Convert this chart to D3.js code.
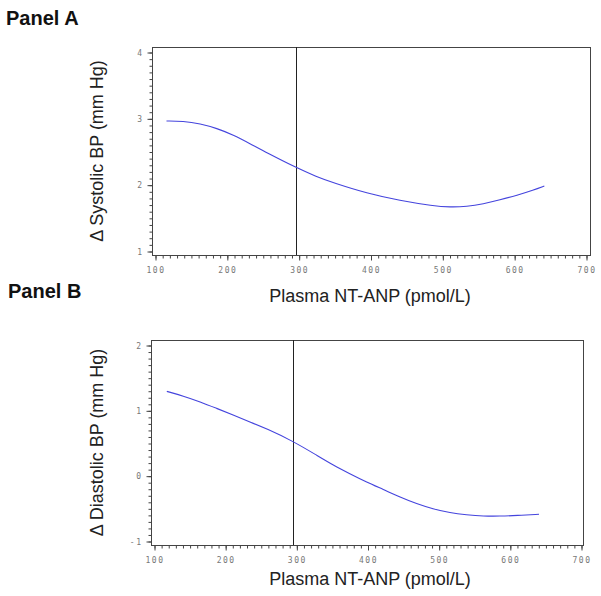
<!DOCTYPE html>
<html>
<head>
<meta charset="utf-8">
<script src="https://cdn.jsdelivr.net/npm/d3@7"></script>
<style>
  html, body { margin: 0; padding: 0; background: #fff; }
  svg { display: block; }
</style>
</head>
<body>
<svg id="chart" width="601" height="596"></svg>
<script>
// ---------------- data ----------------
const panelTitles = ["Panel A", "Panel B"];
const yTitles = ["\u0394 Systolic BP (mm Hg)", "\u0394 Diastolic BP (mm Hg)"];
const xTitle = "Plasma NT-ANP (pmol/L)";

const xTickValues = [100, 200, 300, 400, 500, 600, 700];
const yTickValuesA = [1, 2, 3, 4];
const yTickValuesB = [-1, 0, 1, 2];
const refLineX = 296;

// Panel A: Systolic BP curve
const xA = [116, 139, 163, 186, 209, 232, 256, 296, 325, 348, 395, 441, 487, 511, 534, 557, 580, 604, 627, 642];
const yA = [2.96, 2.96, 2.92, 2.85, 2.75, 2.62, 2.48, 2.26, 2.12, 2.03, 1.87, 1.76, 1.68, 1.66, 1.67, 1.71, 1.77, 1.84, 1.92, 1.98];

// Panel B: Diastolic BP curve
const xB = [118, 141, 165, 188, 211, 235, 258, 295, 329, 352, 375, 399, 422, 446, 469, 492, 516, 539, 563, 586, 610, 641];
const yB = [1.29, 1.22, 1.13, 1.03, 0.93, 0.82, 0.72, 0.53, 0.31, 0.16, 0.03, -0.10, -0.21, -0.33, -0.43, -0.51, -0.57, -0.60, -0.62, -0.62, -0.61, -0.59];

// ---------------- drawing ----------------
const svg = d3.select("#chart");
const tickFont = "'DejaVu Sans Mono', monospace";
const titleFont = "'Liberation Sans', Arial, sans-serif";

function drawPanel(cfg) {
  const g = svg.append("g");
  const x = d3.scaleLinear().domain([100, 700]).range([cfg.x100, cfg.x700]);
  const y = d3.scaleLinear().domain(cfg.yDomain).range([cfg.yLowPx, cfg.yHighPx]);

  // frame
  g.append("rect")
    .attr("x", cfg.left + 0.5).attr("y", cfg.top + 0.5)
    .attr("width", cfg.right - cfg.left).attr("height", cfg.bottom - cfg.top)
    .attr("fill", "none").attr("stroke", "#444").attr("stroke-width", 1);

  const xMinor = g.append("g").attr("transform", `translate(0.5,${cfg.bottom + 0.5})`)
    .call(d3.axisBottom(x).tickValues(d3.range(100, 701, 10)).tickSize(3).tickFormat(""));
  const xMajor = g.append("g").attr("transform", `translate(0.5,${cfg.bottom + 0.5})`)
    .call(d3.axisBottom(x).tickValues(xTickValues).tickSize(5).tickPadding(7).tickFormat(d3.format("d")));
  const yMinor = g.append("g").attr("transform", `translate(${cfg.left + 0.5},0.5)`)
    .call(d3.axisLeft(y).tickValues(d3.range(cfg.yDomain[0], cfg.yDomain[1] + 0.001, 0.1)).tickSize(3).tickFormat(""));
  const yMajor = g.append("g").attr("transform", `translate(${cfg.left + 0.5},0.5)`)
    .call(d3.axisLeft(y).tickValues(cfg.yTicks).tickSize(5).tickPadding(4).tickFormat(d => d < 0 ? "-" + Math.abs(d) : d));

  [xMinor, xMajor, yMinor, yMajor].forEach(a => {
    a.select(".domain").remove();
    a.selectAll("line").attr("stroke", "#444");
    a.selectAll("text")
      .attr("font-family", tickFont).attr("font-size", 8)
      .attr("letter-spacing", "1.5px").attr("fill", "#777");
  });

  // reference line
  g.append("line")
    .attr("x1", Math.round(x(refLineX)) + 0.5).attr("x2", Math.round(x(refLineX)) + 0.5)
    .attr("y1", cfg.top).attr("y2", cfg.bottom)
    .attr("stroke", "#222").attr("stroke-width", 1);

  // curve
  const pts = cfg.xs.map((v, i) => [v, cfg.ys[i]]);
  g.append("path")
    .datum(pts)
    .attr("d", d3.line().x(d => x(d[0])).y(d => y(d[1])).curve(d3.curveBasis))
    .attr("fill", "none").attr("stroke", "#4444dd").attr("stroke-width", 1.1);

  // titles
  svg.append("text").attr("x", cfg.panelX).attr("y", cfg.panelY)
    .attr("font-family", titleFont).attr("font-weight", "bold").attr("font-size", 20)
    .attr("fill", "#111").text(cfg.panelTitle);

  const yMid = (cfg.top + cfg.bottom) / 2;
  svg.append("text")
    .attr("transform", `translate(${cfg.yTitleX},${yMid}) rotate(-90)`)
    .attr("text-anchor", "middle")
    .attr("font-family", titleFont).attr("font-size", 18).attr("fill", "#222")
    .text(cfg.yTitle);

  svg.append("text")
    .attr("x", 370).attr("y", cfg.xTitleY)
    .attr("text-anchor", "middle")
    .attr("font-family", titleFont).attr("font-size", 18).attr("fill", "#222")
    .text(xTitle);
}

drawPanel({
  left: 152, right: 590, top: 47, bottom: 255,
  x100: 155, x700: 586,
  yDomain: [1, 4], yLowPx: 251, yHighPx: 52,
  yTicks: yTickValuesA,
  xs: xA, ys: yA,
  panelTitle: panelTitles[0], panelX: 6, panelY: 25,
  yTitle: yTitles[0], yTitleX: 103,
  xTitleY: 302
});

drawPanel({
  left: 151, right: 583, top: 340, bottom: 545,
  x100: 154, x700: 581,
  yDomain: [-1, 2], yLowPx: 541, yHighPx: 345,
  yTicks: yTickValuesB,
  xs: xB, ys: yB,
  panelTitle: panelTitles[1], panelX: 8, panelY: 298,
  yTitle: yTitles[1], yTitleX: 103,
  xTitleY: 585
});
</script>
</body>
</html>
